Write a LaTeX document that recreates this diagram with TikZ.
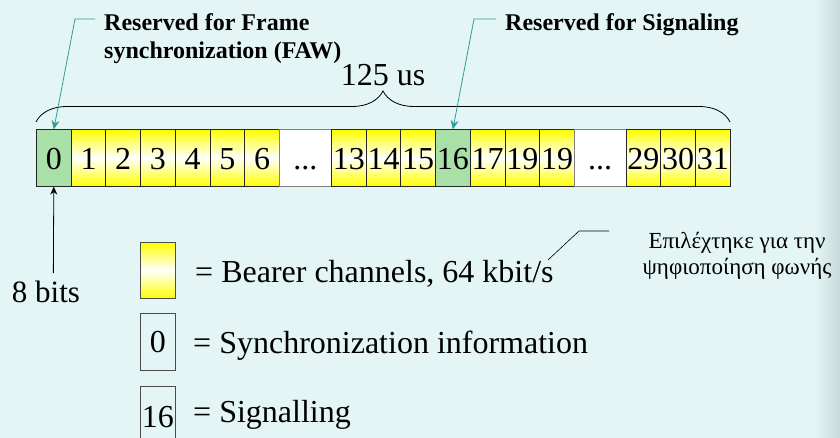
\documentclass[tikz,border=0pt]{standalone}
\usepackage{fontspec}
\setmainfont{Liberation Serif}
\usetikzlibrary{decorations.pathreplacing,arrows.meta}
\definecolor{bg}{HTML}{E4F5F5}
\definecolor{cellgreen}{HTML}{A8E0A8}
\definecolor{callteal}{HTML}{2E9E96}
\definecolor{edgegray}{HTML}{C6DADA}
\newcommand{\cdotstxt}{...}
\begin{document}
\begin{tikzpicture}[x=1pt,y=-1pt,
  cellbase/.style={anchor=north west, minimum height=56.4pt, inner sep=0pt,
    text height=23pt, text depth=0pt, font=\fontsize{32}{34}\selectfont, line width=0.9pt},
  yc/.style={cellbase, draw=black!85, top color=yellow, bottom color=yellow, middle color=white},
  gc/.style={cellbase, draw=black!85, fill=cellgreen},
  dc/.style={cellbase, draw=black!50, fill=white},
  lbl/.style={font=\bfseries\fontsize{24}{28}\selectfont, anchor=base west, inner sep=0pt, align=left},
  bigtxt/.style={font=\fontsize{32}{34}\selectfont, anchor=base west, inner sep=0pt},
  callout/.style={callteal, line width=0.8pt},
  legbox/.style={anchor=north west, minimum width=35pt, inner sep=0pt, draw=black!70, line width=0.9pt,
    text height=22pt, text depth=0pt, font=\fontsize{32}{34}\selectfont}
]
\useasboundingbox (0,0) rectangle (840,438);
\fill[bg] (0,0) rectangle (840,438);
\shade[left color=bg, right color=edgegray] (815,0) rectangle (840,438);

% cells
\foreach \i/\xl/\cw/\lab/\sty in {
  0/36/34.7/0/gc, 1/70.7/34.7/1/yc, 2/105.4/34.7/2/yc, 3/140.1/34.7/3/yc,
  4/174.8/34.7/4/yc, 5/209.5/34.7/5/yc, 6/244.2/34.8/6/yc, 7/279/52/\cdotstxt/dc,
  8/331/34.7/13/yc, 9/365.7/34.7/14/yc, 10/400.4/34.7/15/yc, 11/435.1/34.7/16/gc,
  12/469.8/34.7/17/yc, 13/504.5/34.7/19/yc, 14/539.2/34.7/19/yc, 15/573.9/51.6/\cdotstxt/dc,
  16/625.5/34.7/29/yc, 17/660.2/34.7/30/yc, 18/694.9/34.8/31/yc}
  \node[\sty, minimum width=\cw pt] (c\i) at (\xl,129.3) {\lab};

% brace
\coordinate (bl) at (36,122);
\coordinate (br) at (730,122);
\draw[line width=0.8pt, decorate, decoration={brace, amplitude=31pt}] (bl) -- (br);
\node[font=\fontsize{32}{34}\selectfont, anchor=base, inner sep=0pt] (t125) at (383,86) {125 us};

% labels and callouts
\node[lbl] (l1) at (104,59) {Reserved for Frame\\synchronization (FAW)};
\node[lbl] (l2) at (505,31) {Reserved for Signaling};
\coordinate (k1a) at (95,19);
\coordinate (k1b) at (75,19);
\coordinate (k2a) at (496,19);
\coordinate (k2b) at (474,19);
\draw[callout, -{Stealth[length=9pt,width=8pt]}] (k1a) -- (k1b) -- (c0.north);
\draw[callout, -{Stealth[length=9pt,width=8pt]}] (k2a) -- (k2b) -- (c11.north);

% 8 bits
\coordinate (b8) at (53.35,273);
\draw[line width=0.8pt, -{Stealth[length=8pt,width=7pt]}] (b8) -- (c0.south);
\node[bigtxt, anchor=base, font=\fontsize{31}{34}\selectfont] (bits) at (46,302) {8 bits};

% legend
\node[legbox, minimum height=56pt, top color=yellow, bottom color=yellow, middle color=white] (lg1) at (140,242) {};
\node[legbox, minimum height=57pt] (lg2) at (140,313) {0};
\node[legbox, minimum height=60pt] (lg3) at (140,386) {16};
\node[bigtxt] (tx1) at (195,282) {= Bearer channels, 64 kbit/s};
\node[bigtxt] (tx2) at (193,353) {= Synchronization information};
\node[bigtxt] (tx3) at (193,422) {= Signalling};

% greek note
\coordinate (g1) at (548,260);
\coordinate (g2) at (579,231);
\coordinate (g3) at (609,231);
\draw[line width=0.6pt] (g1) -- (g2) -- (g3);
\node[font=\fontsize{23}{26}\selectfont, anchor=base, align=center, inner sep=0pt] (gr) at (737,274)
  {Επιλέχτηκε για την\\ψηφιοποίηση φωνής};
\end{tikzpicture}
\end{document}
